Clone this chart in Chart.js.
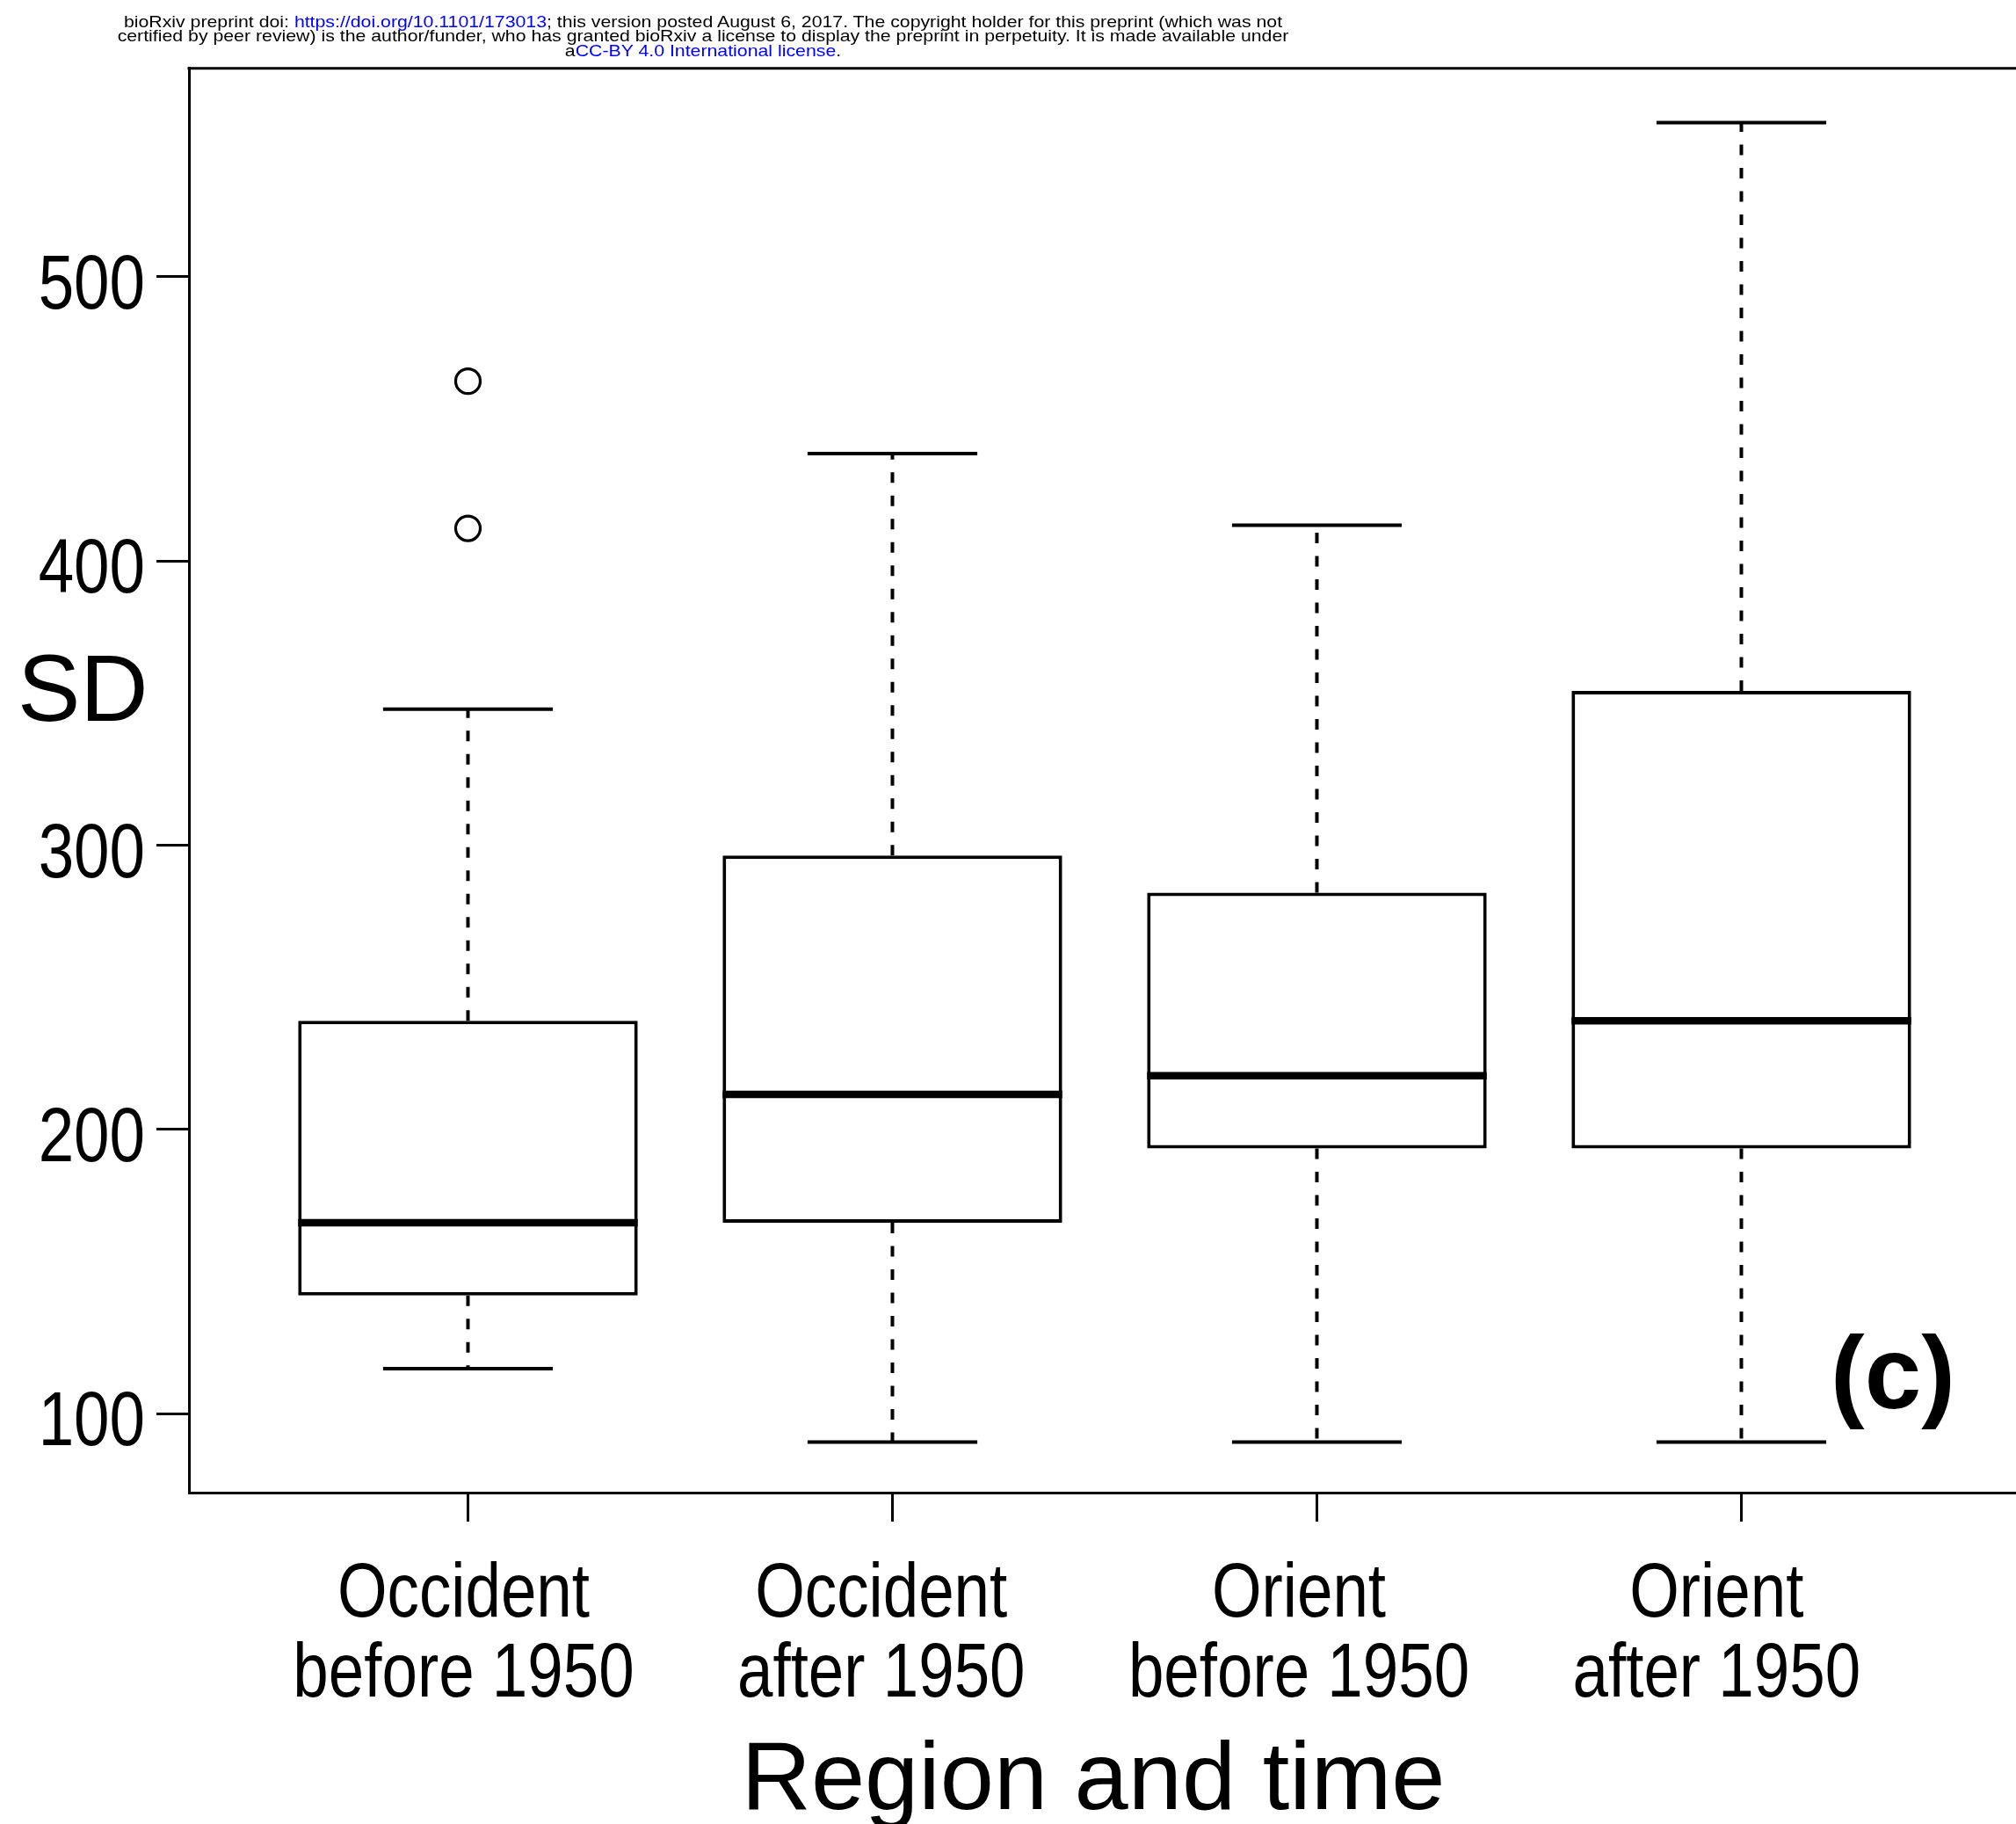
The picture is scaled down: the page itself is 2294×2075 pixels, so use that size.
<!DOCTYPE html>
<html>
<head>
<meta charset="utf-8">
<title>SD by region and time</title>
<script src="https://cdn.jsdelivr.net/npm/chart.js@4.4.1/dist/chart.umd.min.js"></script>
<style>
 html,body{margin:0;padding:0;background:#fff;overflow:hidden}
 #wrap{position:relative;width:2294px;height:2075px}
 #chart{position:absolute;left:0;top:0}
 .note{position:absolute;left:800px;top:16.5px;transform:translateX(-50%) scaleX(1.12);transform-origin:center top;
   font:19px/16.8px "Liberation Sans",Arial,sans-serif;color:#000;text-align:center;white-space:nowrap}
 .note a{color:#00f;text-decoration:none}
</style>
</head>
<body>
<div id="wrap">
 <canvas id="chart" width="2294" height="2075"></canvas>
 <div class="note">
  bioRxiv preprint doi: <a href="#">https://doi.org/10.1101/173013</a>; this version posted August 6, 2017. The copyright holder for this preprint (which was not<br>
  certified by peer review) is the author/funder, who has granted bioRxiv a license to display the preprint in perpetuity. It is made available under<br>
  a<a href="#">CC-BY 4.0 International license</a>.
 </div>
</div>
<script>
/* ---------------- data: one box per region/period ---------------- */
const CATEGORIES=[["Occident","before 1950"],["Occident","after 1950"],["Orient","before 1950"],["Orient","after 1950"]];
const LOWER =[115.8, 90.0, 90.0, 90.0];    // lower whisker end
const Q1    =[141.6,167.2,193.3,193.3];
const MEDIAN=[167.2,212.3,218.9,238.2];
const Q3    =[238.2,296.4,283.3,354.3];
const UPPER =[347.9,437.8,412.6,554.3];    // upper whisker end
const OUTLIERS=[[463.3,411.5],[],[],[]];
const Y_TICKS=[100,200,300,400,500];

/* ---------------- look ---------------- */
const SANS="'Liberation Sans',Arial,sans-serif";
const BOX_W=0.8, STAPLE_W=0.4;
const NARROW=0.836;         // axis labels use a condensed Arial look
const LABEL_SPREAD=0.984, LABEL_SHIFT=-5;   // category labels run slightly tighter than the ticks

function narrowText(ctx,txt,x,y,align){
 ctx.save(); ctx.translate(x,y); ctx.scale(NARROW,1);
 ctx.textAlign=align; ctx.fillText(txt,0,0); ctx.restore();
}

// whiskers, staples, medians and the top edge of the frame, placed through the scales
const boxLines={id:'boxLines',
 afterDatasetsDraw(chart){
  const {ctx,chartArea:a,scales:{x,y}}=chart;
  const bars=chart.getDatasetMeta(0).data;
  const halfStaple=(x.getPixelForValue(1+STAPLE_W/2)-x.getPixelForValue(1));
  ctx.save(); ctx.strokeStyle='#000'; ctx.lineCap='butt';
  CATEGORIES.forEach((c,i)=>{
   const cx=x.getPixelForValue(i+1);
   ctx.lineWidth=4; ctx.setLineDash([12,14.5]);
   ctx.beginPath();
   ctx.moveTo(cx,y.getPixelForValue(Q3[i])); ctx.lineTo(cx,y.getPixelForValue(UPPER[i]));
   ctx.moveTo(cx,y.getPixelForValue(Q1[i])); ctx.lineTo(cx,y.getPixelForValue(LOWER[i]));
   ctx.stroke();
   ctx.setLineDash([]);
   ctx.beginPath();
   [UPPER[i],LOWER[i]].forEach(v=>{const py=y.getPixelForValue(v);ctx.moveTo(cx-halfStaple,py);ctx.lineTo(cx+halfStaple,py);});
   ctx.stroke();
   const hb=bars[i].width/2, my=y.getPixelForValue(MEDIAN[i]);
   ctx.lineWidth=8.5; ctx.beginPath(); ctx.moveTo(cx-hb,my); ctx.lineTo(cx+hb,my); ctx.stroke();
  });
  ctx.lineWidth=3; ctx.beginPath(); ctx.moveTo(a.left-1.5,a.top); ctx.lineTo(a.right,a.top); ctx.stroke();
  ctx.restore();
 },
 afterDraw(chart){
  const {ctx,scales:{x,y}}=chart;
  ctx.save(); ctx.fillStyle='#000'; ctx.textBaseline='alphabetic';
  // tick labels, condensed, at the library's tick positions
  ctx.font="87px "+SANS;
  y.ticks.forEach(t=>narrowText(ctx,String(t.value),165,y.getPixelForValue(t.value)+36,'right'));
  x.ticks.forEach(t=>{
   const px=x.getPixelForValue(1+(t.value-1)*LABEL_SPREAD)+LABEL_SHIFT;
   (CATEGORIES[t.value-1]||[]).forEach((ln,k)=>narrowText(ctx,ln,px,1839+k*91,'center'));
  });
  ctx.textAlign='center';
  ctx.font="110px "+SANS; ctx.fillText("Region and time",1244,2058);
  ctx.font="107px "+SANS; ctx.textAlign='left'; ctx.fillText("SD",20,820);
  ctx.font="bold 116px "+SANS; ctx.textAlign='center'; ctx.fillText("(c)",2154,1602);
  ctx.restore();
 }};

new Chart(document.getElementById('chart'),{
 type:'bar',
 data:{datasets:[
  {type:'bar',data:Q1.map((q,i)=>({x:i+1,y:[q,Q3[i]]})),
   backgroundColor:'#fff',borderColor:'#000',borderWidth:4,borderSkipped:false,
   barPercentage:BOX_W,categoryPercentage:1},
  {type:'scatter',data:OUTLIERS.flatMap((o,i)=>o.map(v=>({x:i+1,y:v}))),
   pointStyle:'circle',pointRadius:14,pointBorderWidth:3.2,
   pointBackgroundColor:'rgba(0,0,0,0)',pointBorderColor:'#000'}
 ]},
 options:{
  responsive:false,devicePixelRatio:1,animation:false,
  layout:{autoPadding:false,padding:{top:77.7,left:0,right:0,bottom:0}},
  plugins:{legend:{display:false},tooltip:{enabled:false}},
  scales:{
   x:{type:'linear',min:0.3427,max:4.647,offset:false,
    afterBuildTicks:s=>{s.ticks=CATEGORIES.map((c,i)=>({value:i+1}));},
    afterFit:s=>{s.height=377;s.paddingLeft=0;s.paddingRight=0;},
    grid:{drawOnChartArea:false,offset:false,color:'#000',tickLength:33,tickWidth:3},
    border:{display:true,color:'#000',width:3},
    ticks:{autoSkip:false,maxRotation:0,padding:32,color:'rgba(0,0,0,0)',
     font:{family:SANS,size:40},callback:v=>CATEGORIES[v-1]?CATEGORIES[v-1][0]:''},
    title:{display:false}},
   y:{type:'linear',min:72.2,max:573.4,
    afterBuildTicks:s=>{s.ticks=Y_TICKS.map(v=>({value:v}));},
    afterFit:s=>{s.width=215;s.paddingTop=0;s.paddingBottom=0;},
    grid:{drawOnChartArea:false,color:'#000',tickLength:37,tickWidth:3},
    border:{display:true,color:'#000',width:3},
    ticks:{padding:17,color:'rgba(0,0,0,0)',font:{family:SANS,size:40}}}
  }
 },
 plugins:[boxLines]
});
</script>
</body>
</html>
